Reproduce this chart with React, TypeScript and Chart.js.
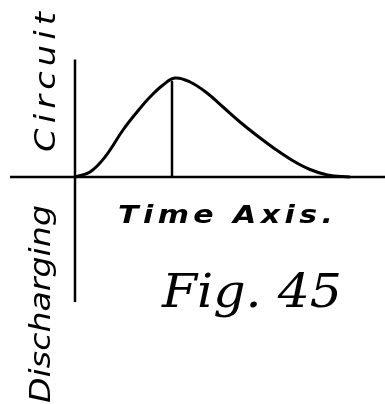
import { useEffect, useRef } from "react";
import Chart from "chart.js/auto";

// Hand-drawn discharge curve (time units, current units)
const timeValues = [0, 0.6, 1.2, 1.92, 2.48, 3.0, 3.52, 4.0, 4.6, 5.28, 5.92, 6.6, 7.3, 8.0, 8.7, 9.4, 10.1, 11.0];
const currentValues = [0, 0.2, 0.8, 1.88, 2.6, 3.2, 3.68, 3.96, 3.8, 3.36, 2.8, 2.2, 1.64, 1.12, 0.66, 0.3, 0.08, 0];
const peakTime = [3.88, 3.88];
const peakLine = [0, 3.85];
const timeAxisEnds = [-2.6, 12.4];
const currentAxisEnds = [4.7, -5.0];
const labelTexts = ["Circuit", "Discharging", "Time Axis.", "Fig. 45"];

export default function App() {
  const ref = useRef<HTMLCanvasElement | null>(null);
  useEffect(() => {
    document.body.style.margin = "0";
    const canvas = ref.current!;
    const textPlugin = {
      id: "handText",
      afterDatasetsDraw(chart: any) {
        const ctx = chart.ctx as CanvasRenderingContext2D;
        const xs = chart.scales.x;
        const ys = chart.scales.y;
        const fit = (text: string, t: number, i: number, width: number, font: string, rot: number) => {
          ctx.save();
          ctx.translate(xs.getPixelForValue(t), ys.getPixelForValue(i));
          ctx.rotate(rot);
          ctx.font = font;
          ctx.fillStyle = "#000";
          ctx.textAlign = "left";
          ctx.textBaseline = "alphabetic";
          (ctx as any).letterSpacing = "0px";
          const w = ctx.measureText(text).width;
          const stretch = Math.min(1.2, width / w);
          const gap = Math.max(0, (width / stretch - w) / (text.length - 1));
          (ctx as any).letterSpacing = gap + "px";
          ctx.scale(stretch, 1);
          ctx.fillText(text, 0, 0);
          ctx.restore();
        };
        fit(labelTexts[0], -0.8, 1.0, 140, "italic 28px 'DejaVu Sans'", -Math.PI / 2);
        fit(labelTexts[1], -1.0, -9.04, 198, "italic 28px 'DejaVu Sans'", -Math.PI / 2);
        fit(labelTexts[2], 1.72, -1.84, 215, "italic bold 25px 'DejaVu Sans'", 0);
        fit(labelTexts[3], 3.48, -5.2, 180, "italic 46px 'DejaVu Serif'", 0);
      },
    };
    const chart = new Chart(canvas, {
      type: "scatter",
      data: {
        datasets: [
          {
            data: timeValues.map((t, k) => ({ x: t, y: currentValues[k] })),
            showLine: true,
            borderColor: "#000",
            borderWidth: 3,
            pointRadius: 0,
            tension: 0.4,
          },
          {
            data: peakTime.map((t, k) => ({ x: t, y: peakLine[k] })),
            showLine: true,
            borderColor: "#000",
            borderWidth: 2.5,
            pointRadius: 0,
          },
          {
            data: timeAxisEnds.map((t) => ({ x: t, y: 0 })),
            showLine: true,
            borderColor: "#000",
            borderWidth: 2.5,
            pointRadius: 0,
          },
          {
            data: currentAxisEnds.map((i) => ({ x: 0, y: i })),
            showLine: true,
            borderColor: "#000",
            borderWidth: 2.5,
            pointRadius: 0,
          },
        ],
      },
      options: {
        animation: false,
        responsive: false,
        layout: { padding: 0 },
        plugins: { legend: { display: false }, tooltip: { enabled: false } },
        scales: {
          x: { type: "linear", min: -3, max: 12.4, display: false },
          y: { type: "linear", min: -9.08, max: 7.08, display: false },
        },
      },
      plugins: [textPlugin],
    });
    return () => chart.destroy();
  }, []);
  return (
    <div style={{ width: 385, height: 404, background: "#fff" }}>
      <canvas ref={ref} width={385} height={404} />
    </div>
  );
}
